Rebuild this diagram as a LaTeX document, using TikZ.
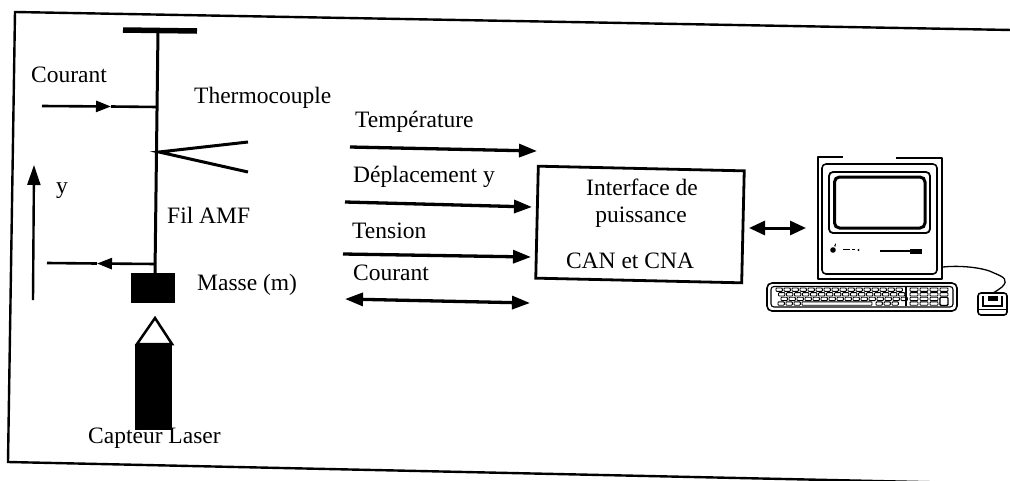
\documentclass[tikz,border=0pt]{standalone}
\usepackage{fontspec}
\setmainfont{Liberation Serif}
\usetikzlibrary{arrows.meta}
\begin{document}
\begin{tikzpicture}[x=1pt,y=-1pt,
  lbl/.style={inner sep=0pt, anchor=base west, font=\fontsize{23.5}{27}\selectfont},
  clbl/.style={inner sep=0pt, anchor=base, font=\fontsize{23.5}{27}\selectfont},
  frameline/.style={line width=2.4pt},
  wire/.style={line width=3pt},
  sig/.style={line width=3.3pt, -{Triangle[length=18pt,width=13pt]}},
  sigboth/.style={line width=3.3pt, {Triangle[length=18pt,width=13pt]}-{Triangle[length=18pt,width=13pt]}},
  midtip/.style={line width=2.6pt, -{Triangle[length=15pt,width=11pt]}},
  pc/.style={line width=1.6pt, line join=round},
  keycap/.style={line width=0.9pt, rounded corners=0.8pt},
]
\useasboundingbox (0,0) rectangle (1010,480);
\fill[white] (0,0) rectangle (1010,480);

% outer frame of the figure
\coordinate (fTL) at (15,12);
\coordinate (fTR) at (1012,30);
\coordinate (fBL) at (8,462);
\coordinate (fBR) at (1012,484);
\draw[frameline] (fTR) -- (fTL) -- (fBL) -- (fBR);

% ---- test bench: clamp, SMA wire, thermocouple, mass, laser sensor
\coordinate (barL) at (123,30);
\coordinate (barR) at (197,31);
\draw[line width=5.5pt] (barL) -- (barR);
\coordinate (wireTop) at (158,30);
\coordinate (wireBot) at (155,273);
\draw[wire] (wireTop) -- (wireBot);

\coordinate (cinStart) at (42,106);
\coordinate (cinMid) at (111,106.5);
\coordinate (cinEnd) at (157.5,107);
\draw[midtip] (cinStart) -- (cinMid);
\draw[line width=2.6pt] (cinMid) -- (cinEnd);

\coordinate (tcJ) at (159,152);
\coordinate (tcA) at (248,142);
\coordinate (tcB) at (248,172);
\draw[wire, line join=miter] (tcA) -- (tcJ) -- (tcB);

\coordinate (yBot) at (33,300);
\coordinate (yTop) at (34,165);
\draw[line width=2.4pt, -{Triangle[length=20pt,width=13pt]}] (yBot) -- (yTop);

\coordinate (coutStart) at (156,264);
\coordinate (coutMid) at (97,263.5);
\coordinate (coutEnd) at (47,263);
\draw[midtip] (coutStart) -- (coutMid);
\draw[line width=2.6pt] (coutMid) -- (coutEnd);

\node[fill=black, minimum width=44pt, minimum height=30pt, inner sep=0pt, anchor=north west] (mass) at (131,273) {};

\coordinate (lzApex) at (155,318);
\coordinate (lzL) at (137,344);
\coordinate (lzR) at (172,344);
\draw[line width=2.5pt, line join=miter] (lzL) -- (lzApex) -- (lzR) -- cycle;
\node[fill=black, minimum width=37pt, minimum height=86pt, inner sep=0pt, anchor=north west] (laser) at (135,344) {};

\node[lbl] (tCourantL) at (31,82) {Courant};
\node[lbl] (tThermo) at (194,103) {Thermocouple};
\node[lbl] (tY) at (56,193) {y};
\node[lbl] (tFil) at (167,223) {Fil AMF};
\node[lbl] (tMasse) at (197,290) {Masse (m)};
\node[lbl] (tCapteur) at (88,443) {Capteur Laser};

% ---- measured and driven signals
\node[lbl] (tTemp) at (355,127) {Température};
\node[lbl] (tDepl) at (353,182) {Déplacement y};
\node[lbl] (tTension) at (352,238) {Tension};
\node[lbl] (tCourantM) at (353,280) {Courant};

\node[draw, line width=2.8pt, minimum width=206pt, minimum height=112pt, inner sep=0pt, rotate=-1.3] (iface) at (640,224.5) {};
\node[clbl] (tIf1) at (642,195) {Interface de};
\node[clbl] (tIf2) at (641,222) {puissance};
\node[clbl] (tIf3) at (630,268) {CAN et CNA};

\coordinate (sTa) at (350,147);
\coordinate (sTb) at (537,151);
\coordinate (sDa) at (345,202);
\coordinate (sDb) at (532,207);
\coordinate (sVa) at (343,254);
\coordinate (sVb) at (531,257);
\coordinate (sCa) at (345,299);
\coordinate (sCb) at (530,303);
\draw[sig] (sTa) -- (sTb);
\draw[sig] (sDa) -- (sDb);
\draw[sig] (sVa) -- (sVb);
\draw[sigboth] (sCa) -- (sCb);

\coordinate (pcA) at (749,228);
\coordinate (pcB) at (806,228);
\draw[line width=3pt, {Triangle[length=16pt,width=14pt]}-{Triangle[length=16pt,width=14pt]}] (pcA) -- (pcB);

% ---- computer
% case
\draw[pc] (843,157) -- (818,157) -- (818,279) -- (942,279) -- (942,158) -- (896,158);
\draw[pc, rounded corners=4pt] (822,164) rectangle (937,274);
% screen bezel and screen
\draw[line width=1.8pt, rounded corners=4pt] (829,172) rectangle (930,233);
\draw[line width=3pt, rounded corners=5pt] (834.5,177) rectangle (925,228);
% logo, name plate, floppy slot
\fill (833,250) circle (2.8pt);
\fill (834,246) -- (836,243) -- (835.5,246.5) -- cycle;
\draw[line width=1.4pt] (843,249.5) -- (850,249.5);
\draw[line width=1.4pt] (852,249.5) -- (855,249.5);
\fill (858.5,250) circle (1.2pt);
\draw[line width=1.2pt] (880,251) -- (911,251);
\fill (910,248.5) rectangle (922,253.5);
% keyboard
\draw[pc, rounded corners=5pt] (767,283) rectangle (957,311);
\draw[line width=1.1pt, rounded corners=3pt] (771,286.5) rectangle (953,307);
\foreach \r in {0,1,2} {
  \foreach \k in {0,...,15} {
    \draw[keycap] ({776+\r*2.5+\k*8},{288+\r*4.6}) rectangle ++(6.4,3.4);
  }
}
\foreach \k in {0,1,2} {
  \draw[keycap] ({778+\k*8},301.8) rectangle ++(6.4,3.4);
}
\draw[keycap] (802,301.8) rectangle (872,305.2);
\foreach \k in {0,1,2} {
  \draw[keycap] ({876+\k*8},301.8) rectangle ++(6.4,3.4);
}
\draw[line width=1.1pt] (906,287) -- (906,306);
\foreach \r in {0,1,2,3} {
  \foreach \k in {0,1,2,3} {
    \draw[keycap] ({910+\k*10},{288+\r*4.6}) rectangle ++(8,3.4);
  }
}
\fill[white] (939.5,297) rectangle (949,306);
\draw[line width=1.3pt, rounded corners=1pt] (940,297.2) rectangle (948,305.4);
% mouse and cable
\draw[pc, rounded corners=3pt] (978,293) rectangle (1007,315);
\draw[pc] (978,309.5) -- (1007,309.5);
\draw[line width=1.4pt] (983,296) -- (983,306) -- (1002,306) -- (1002,296);
\fill (987.5,296) rectangle (997.5,301);
\draw[line width=1.3pt] (943,267) .. controls (962,265) and (985,268) .. (994,273)
  .. controls (1004,277) and (1009,280) .. (1002,287)
  .. controls (998,290) and (995,292) .. (993,293);
\end{tikzpicture}
\end{document}
